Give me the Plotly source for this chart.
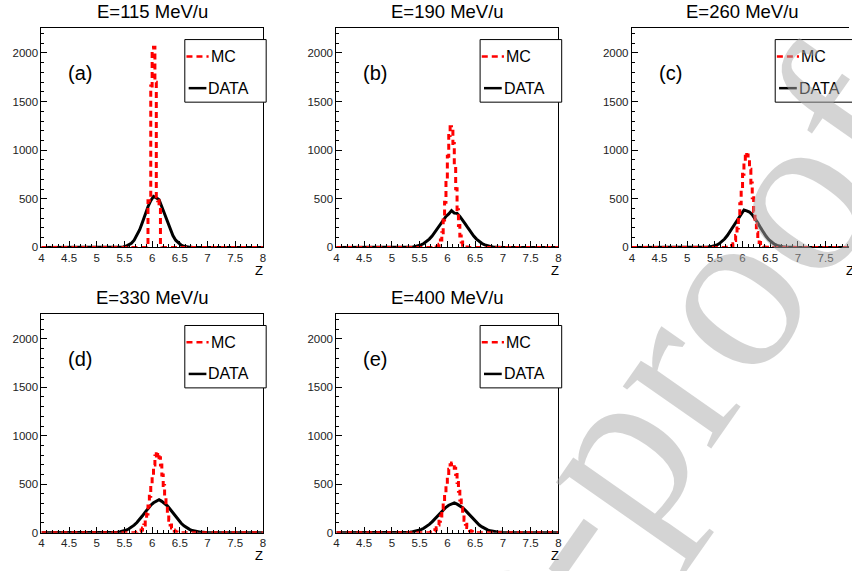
import numpy as np
import plotly.graph_objects as go

# ---------------- data ----------------
titles = ["E=115 MeV/u", "E=190 MeV/u", "E=260 MeV/u", "E=330 MeV/u", "E=400 MeV/u"]
panel_tags = ["(a)", "(b)", "(c)", "(d)", "(e)"]
series_names = ["MC", "DATA"]
x_tick_values = [4, 4.5, 5, 5.5, 6, 6.5, 7, 7.5, 8]
y_tick_values = [0, 500, 1000, 1500, 2000]

# DATA histograms: bins of width 0.05 starting at Z = 5.2 (zero elsewhere)
data_bin_start = 5.2
data_bin_width = 0.05
data_a = [0, 0, 0, 1, 2, 5, 11, 23, 43, 74, 121, 182, 258, 341, 418, 481, 525, 510,
          490, 418, 341, 258, 182, 121, 74, 43, 23, 11, 5, 2, 1, 0, 0, 0, 0, 0]
data_b = [1, 2, 3, 5, 9, 16, 26, 40, 59, 85, 117, 155, 197, 240, 282, 318, 344, 378,
          352, 350, 318, 282, 240, 197, 155, 117, 85, 59, 40, 26, 16, 9, 5, 3, 2, 1]
data_c = [0, 1, 2, 4, 8, 13, 22, 37, 59, 86, 122, 166, 212, 261, 308, 345, 385, 375,
          364, 337, 300, 252, 203, 155, 114, 80, 53, 33, 21, 12, 6, 3, 2, 1, 0, 0]
data_d = [1, 2, 3, 5, 9, 15, 24, 37, 54, 77, 104, 136, 174, 212, 249, 283, 308, 325,
          340, 323, 304, 276, 241, 203, 166, 129, 97, 71, 50, 34, 22, 14, 8, 5, 3, 2]
data_e = [2, 3, 5, 9, 14, 21, 31, 45, 63, 85, 111, 141, 173, 204, 235, 262, 283, 296,
          308, 294, 279, 258, 230, 198, 165, 134, 105, 79, 59, 42, 29, 19, 12, 8, 5, 3]

# MC histograms: bins of width 0.025 starting at Z = 5.7 (zero elsewhere)
mc_bin_start = 5.7
mc_bin_width = 0.025
mc_a = [0, 0, 0, 0, 0, 0, 0, 0, 20, 480, 520, 1660, 2050, 2060, 1700, 520,
        480, 420, 30, 0, 0, 0, 0, 0, 0, 0, 0, 0, 0, 0, 0, 0]
mc_b = [0, 0, 0, 1, 5, 13, 33, 75, 151, 282, 465, 700, 937, 1150, 1240, 1232,
        1070, 840, 603, 387, 224, 116, 55, 23, 9, 3, 1, 0, 0, 0, 0, 0]
mc_c = [0, 1, 4, 9, 19, 38, 71, 123, 199, 315, 449, 604, 752, 875, 975, 950,
        915, 805, 663, 511, 370, 244, 154, 90, 49, 25, 12, 5, 2, 1, 0, 0]
mc_d = [2, 3, 7, 15, 27, 47, 80, 128, 193, 275, 375, 486, 596, 697, 790, 815,
        825, 773, 697, 596, 486, 375, 275, 193, 128, 80, 47, 27, 15, 7, 3, 2]
mc_e = [5, 9, 17, 30, 50, 79, 118, 173, 241, 322, 410, 500, 583, 654, 701, 720,
        707, 664, 601, 518, 428, 338, 255, 184, 129, 86, 54, 33, 19, 11, 6, 3]

data_sets = [data_a, data_b, data_c, data_d, data_e]
mc_sets = [mc_a, mc_b, mc_c, mc_d, mc_e]

# ---------------- layout geometry (pixels) ----------------
W, H = 852, 571
col_px = [(38.7, 261.7), (335.7, 559.3), (633.3, 856.3)]
row_px = [(28.0, 250.0), (317.0, 538.3)]
panel_pos = [(0, 0), (0, 1), (0, 2), (1, 0), (1, 1)]
Y_MAX = 2260
FONT = "Liberation Sans, Arial, sans-serif"


def step_xy(start, width, vals):
    edges = start + width * np.arange(len(vals) + 1)
    xs = [4.0] + list(edges[:-1]) + [edges[-1], 8.0]
    ys = [0] + list(vals) + [0, 0]
    return xs, ys


def center_xy(start, width, vals):
    centers = start + width * (np.arange(len(vals)) + 0.5)
    xs = [4.0, start] + list(centers) + [start + width * len(vals), 8.0]
    ys = [0, 0] + list(vals) + [0, 0]
    return xs, ys


fig = go.Figure()
annotations = []
shapes = []

for i in range(5):
    r, c = panel_pos[i]
    x0p, x1p = col_px[c]
    vis_right = min(x1p, W)
    px_per_unit = (x1p - x0p) / 4.0
    xmax = 4.0 + (vis_right - x0p) / px_per_unit
    y0p, y1p = row_px[r]
    dom_x = [x0p / W, vis_right / W]
    dom_y = [1 - y1p / H, 1 - y0p / H]
    k = "" if i == 0 else str(i + 1)
    xa, ya = "x" + k, "y" + k

    dx, dy = center_xy(data_bin_start, data_bin_width, data_sets[i])
    mx, my = step_xy(mc_bin_start, mc_bin_width, mc_sets[i])
    fig.add_trace(go.Scatter(x=dx, y=dy, mode="lines",
                             line=dict(color="black", width=3),
                             name=series_names[1], showlegend=False,
                             xaxis=xa, yaxis=ya, hoverinfo="skip"))
    fig.add_trace(go.Scatter(x=mx, y=my, mode="lines", line_shape="hv",
                             line=dict(color="#ff0000", width=3, dash="6px,4px"),
                             name=series_names[0], showlegend=False,
                             xaxis=xa, yaxis=ya, hoverinfo="skip"))

    axis_common = dict(showline=True, linecolor="black", linewidth=1,
                       ticks="inside", tickcolor="black", tickwidth=1,
                       showgrid=False, zeroline=False,
                       tickfont=dict(family=FONT, size=11.5, color="#222"))
    fig.layout["xaxis" + k] = dict(
        axis_common, domain=dom_x, range=[4, xmax], anchor=ya, mirror=True,
        tickmode="array", tickvals=x_tick_values, ticklen=6,
        minor=dict(dtick=0.1, tick0=4, ticks="inside", ticklen=3, tickcolor="black"))
    fig.layout["yaxis" + k] = dict(
        axis_common, domain=dom_y, range=[0, Y_MAX], anchor=xa,
        mirror=(c != 2), tickmode="array", tickvals=y_tick_values, ticklen=6,
        minor=dict(dtick=100, tick0=0, ticks="inside", ticklen=3, tickcolor="black"))

    def fx(v):
        return (v - 4.0) / (xmax - 4.0)

    def fy(v):
        return v / Y_MAX

    xd, yd = xa + " domain", ya + " domain"
    # legend box
    shapes.append(dict(type="rect", xref=xd, yref=yd,
                       x0=fx(6.59), x1=fx(8.06), y0=fy(1494), y1=fy(2138),
                       line=dict(color="black", width=1), fillcolor="white",
                       layer="above"))
    shapes.append(dict(type="line", xref=xd, yref=yd,
                       x0=fx(6.62), x1=fx(7.02), y0=fy(1964), y1=fy(1964),
                       line=dict(color="#ff0000", width=2.5, dash="6px,4px"),
                       layer="above"))
    shapes.append(dict(type="line", xref=xd, yref=yd,
                       x0=fx(6.66), x1=fx(6.98), y0=fy(1638), y1=fy(1638),
                       line=dict(color="black", width=2.5), layer="above"))
    annotations.append(dict(text=series_names[0], xref=xa, yref=ya, x=7.02, y=1964,
                            xanchor="left", yanchor="middle", showarrow=False,
                            font=dict(family=FONT, size=16, color="black")))
    annotations.append(dict(text=series_names[1], xref=xa, yref=ya, x=6.98, y=1638,
                            xanchor="left", yanchor="middle", showarrow=False,
                            font=dict(family=FONT, size=16, color="black")))
    annotations.append(dict(text=panel_tags[i], xref=xa, yref=ya, x=4.7, y=1792,
                            xanchor="center", yanchor="middle", showarrow=False,
                            font=dict(family=FONT, size=20, color="black")))
    # title
    annotations.append(dict(text=titles[i], xref="paper", yref="paper",
                            x=((x0p + x1p) / 2) / W, y=1 - (y0p - 16.5) / H,
                            xanchor="center", yanchor="middle", showarrow=False,
                            font=dict(family=FONT, size=18.5, color="black")))
    # axis title Z
    annotations.append(dict(text="Z", xref="paper", yref="paper",
                            x=(x1p - 3.5) / W, y=1 - (y1p + 23) / H,
                            xanchor="center", yanchor="middle", showarrow=False,
                            font=dict(family=FONT, size=13, color="black")))

# watermark
annotations.append(dict(text="Journal Pre-proof", xref="paper", yref="paper",
                        x=395 / W, y=1 - 770 / H, xanchor="center", yanchor="middle",
                        textangle=-55, showarrow=False,
                        font=dict(family="Liberation Serif, Times New Roman, serif",
                                  size=235, color="rgba(170,170,170,0.5)")))

fig.update_layout(width=W, height=H, margin=dict(l=0, r=0, t=0, b=0),
                  paper_bgcolor="white", plot_bgcolor="white",
                  annotations=annotations, shapes=shapes, showlegend=False,
                  hovermode=False)

fig.write_html("out.html", config={"displayModeBar": False})
